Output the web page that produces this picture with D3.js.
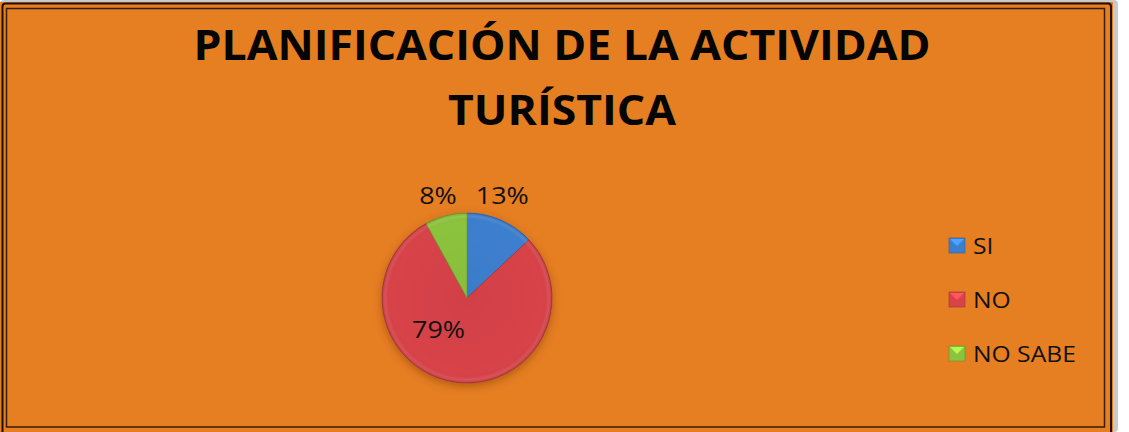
<!DOCTYPE html>
<html>
<head>
<meta charset="utf-8">
<script src="https://cdn.jsdelivr.net/npm/d3@7"></script>
<style>
  html, body { margin: 0; padding: 0; background: #ffffff; }
  svg { display: block; }
  text { font-family: "Open Sans", "DejaVu Sans", sans-serif; fill: #111111; }
</style>
</head>
<body>
<div id="chart"></div>
<script>
// chart data
var categories = ["SI", "NO", "NO SABE"];
var values = [13, 79, 8];
var valueLabels = ["13%", "79%", "8%"];
var titleLines = ["PLANIFICACIÓN DE LA ACTIVIDAD", "TURÍSTICA"];

var colors = ["#3D7FCF", "#D8434A", "#8CC33E"];

var width = 1129, height = 432;
var cx = 467, cy = 298, radius = 85;
var textStretch = 1.12; // the original looks a bit stretched sideways

var svg = d3.select("#chart")
    .append("svg")
    .attr("width", width)
    .attr("height", height);

var defs = svg.append("defs");

// frame: grey shadow, orange plate, double dark border
svg.append("rect")
    .attr("x", 0).attr("y", 0)
    .attr("width", 1118).attr("height", height)
    .attr("rx", 4)
    .style("fill", "#c9c9c9");
svg.append("rect")
    .attr("x", 0).attr("y", 2)
    .attr("width", 1113).attr("height", height)
    .style("fill", "#E67E22");
svg.append("rect")
    .attr("x", 2.5).attr("y", 3.5)
    .attr("width", 1108.5).attr("height", height + 4)
    .attr("rx", 3)
    .style("fill", "none")
    .style("stroke", "#1c1009")
    .style("stroke-width", 2);
svg.append("rect")
    .attr("x", 6.5).attr("y", 8.5)
    .attr("width", 1098).attr("height", 418.5)
    .style("fill", "none")
    .style("stroke", "#3a1d08")
    .style("stroke-width", 1.5);

// title
var title = svg.append("g").attr("class", "title");
title.selectAll("text")
    .data(titleLines)
    .enter()
    .append("text")
    .attr("x", 562)
    .attr("y", function(d, i) { return 60 + i * 65; })
    .attr("text-anchor", "middle")
    .style("font-weight", "bold")
    .style("font-size", "42px")
    .style("fill", "#050505")
    .text(function(d) { return d; });

var firstLen = title.select("text").node().getComputedTextLength();
var titleStretch = 737 / firstLen;
title.selectAll("text").each(function() {
    var len = this.getComputedTextLength();
    d3.select(this)
        .attr("textLength", len * titleStretch)
        .attr("lengthAdjust", "spacingAndGlyphs");
});

// pie
var pie = d3.pie().sort(null).value(function(d) { return d; });
var arcs = pie(values);
var arc = d3.arc().innerRadius(0).outerRadius(radius);

// soft shadow under the pie
var shadow = defs.append("filter").attr("id", "pieShadow")
    .attr("x", "-30%").attr("y", "-30%").attr("width", "160%").attr("height", "160%");
shadow.append("feGaussianBlur").attr("in", "SourceAlpha").attr("stdDeviation", 4);
shadow.append("feOffset").attr("dx", 0).attr("dy", 3).attr("result", "blur");
shadow.append("feFlood").attr("flood-color", "#7a3a00").attr("flood-opacity", 0.5);
shadow.append("feComposite").attr("in2", "blur").attr("operator", "in");
var merge = shadow.append("feMerge");
merge.append("feMergeNode");
merge.append("feMergeNode").attr("in", "SourceGraphic");

// bevel overlay gradient
var bevel = defs.append("radialGradient").attr("id", "bevel")
    .attr("gradientUnits", "userSpaceOnUse")
    .attr("cx", 0).attr("cy", 0).attr("r", radius);
bevel.append("stop").attr("offset", "0%").style("stop-color", "#000").style("stop-opacity", 0.03);
bevel.append("stop").attr("offset", "90%").style("stop-color", "#000").style("stop-opacity", 0);
bevel.append("stop").attr("offset", "96%").style("stop-color", "#fff").style("stop-opacity", 0.08);
bevel.append("stop").attr("offset", "100%").style("stop-color", "#000").style("stop-opacity", 0.16);

var pieG = svg.append("g")
    .attr("transform", "translate(" + cx + "," + cy + ")");

pieG.append("g")
    .attr("filter", "url(#pieShadow)")
    .selectAll("path")
    .data(arcs)
    .enter()
    .append("path")
    .attr("d", arc)
    .style("fill", function(d, i) { return colors[i]; })
    .style("stroke", function(d, i) { return d3.color(colors[i]).darker(0.6); })
    .style("stroke-width", 0.8);

pieG.selectAll(".bevel")
    .data(arcs)
    .enter()
    .append("path")
    .attr("class", "bevel")
    .attr("d", arc)
    .style("fill", "url(#bevel)");

// data labels placed like Excel's best fit (angle in turns from 12 o'clock)
var labelPlace = [
    { turn: 0.053, r: 1.27 },
    { turn: 0.617, r: 0.5 },
    { turn: 0.956, r: 1.25 }
];
function labelPos(i) {
    var a = labelPlace[i].turn * 2 * Math.PI;
    return [Math.sin(a) * radius * labelPlace[i].r, -Math.cos(a) * radius * labelPlace[i].r];
}
pieG.selectAll(".label")
    .data(arcs)
    .enter()
    .append("text")
    .attr("class", "label")
    .attr("x", function(d, i) { return labelPos(i)[0]; })
    .attr("y", function(d, i) { return labelPos(i)[1]; })
    .attr("dy", "0.35em")
    .attr("text-anchor", "middle")
    .style("font-size", "24px")
    .text(function(d, i) { return valueLabels[i]; })
    .each(function() {
        var len = this.getComputedTextLength();
        d3.select(this).attr("textLength", len * textStretch).attr("lengthAdjust", "spacingAndGlyphs");
    });

// legend
var legend = svg.append("g")
    .attr("transform", "translate(949,238)");

var item = legend.selectAll(".item")
    .data(categories)
    .enter()
    .append("g")
    .attr("class", "item")
    .attr("transform", function(d, i) { return "translate(0," + (i * 54) + ")"; });

item.append("rect")
    .attr("width", 16).attr("height", 15)
    .style("fill", function(d, i) { return colors[i]; })
    .style("stroke", function(d, i) { return d3.color(colors[i]).darker(0.8); })
    .style("stroke-width", 0.6);
item.append("path")
    .attr("d", "M1,1 L15,1 L8,8 Z")
    .style("fill", function(d, i) { return d3.color(colors[i]).brighter(0.7); });

item.append("text")
    .attr("x", 24)
    .attr("y", 16)
    .style("font-size", "22px")
    .text(function(d) { return d; })
    .each(function() {
        var len = this.getComputedTextLength();
        d3.select(this).attr("textLength", len * textStretch).attr("lengthAdjust", "spacingAndGlyphs");
    });
</script>
</body>
</html>
